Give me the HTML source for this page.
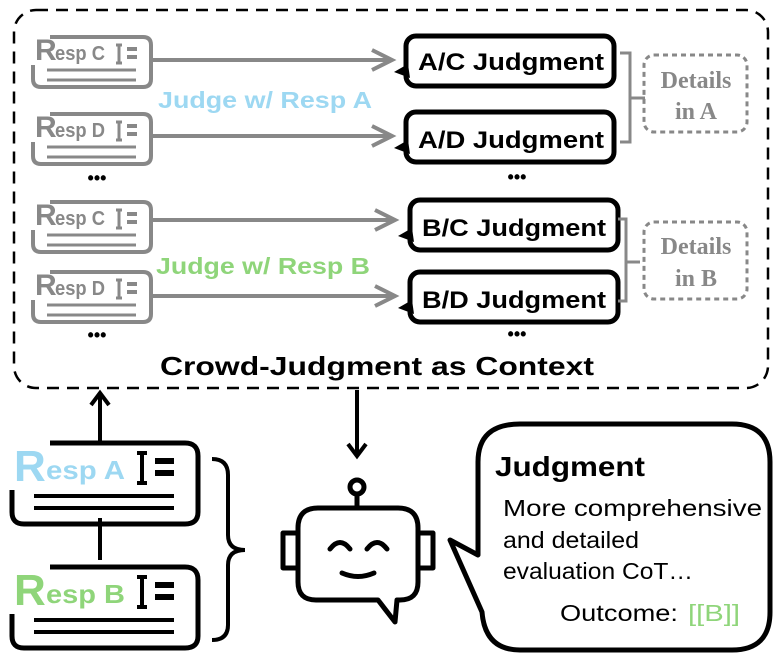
<!DOCTYPE html>
<html><head><style>
html,body{margin:0;padding:0;background:#fff;width:777px;height:667px;overflow:hidden}
svg{display:block}
text{font-family:"Liberation Sans",sans-serif}
</style></head><body>
<svg width="777" height="667" viewBox="0 0 777 667" xmlns="http://www.w3.org/2000/svg">
<defs>
<g id="docg">
  <path d="M17 2 H110 Q118 2 118 10 V44 Q118 52 110 52 H8 Q0 52 0 44 V30" fill="none" stroke="#888" stroke-width="4"/>
  <line x1="14" y1="35" x2="103" y2="35" stroke="#888" stroke-width="3"/>
  <line x1="14" y1="45" x2="103" y2="45" stroke="#888" stroke-width="3"/>
  <path d="M83 10 h6 M86 10 v18 M83 28 h6" stroke="#888" stroke-width="3" fill="none"/>
  <path d="M94 14 h10 M94 22 h10" stroke="#888" stroke-width="4"/>
</g>
<g id="judg">
  <rect x="0" y="0" width="208" height="50" rx="10" fill="#fff" stroke="#000" stroke-width="5"/>
  <path d="M2 28 L-12 36 L4 42 Z" fill="#000"/>
</g>
</defs>
<rect x="14" y="10" width="754" height="378" rx="22" fill="none" stroke="#000" stroke-width="2.5" stroke-dasharray="12 8"/>

<g transform="translate(33,35)"><use href="#docg"/><text x="2" y="25" font-size="30" font-weight="bold" fill="#888">R</text><text x="22" y="25" font-size="20" font-weight="bold" fill="#888" textLength="50" lengthAdjust="spacingAndGlyphs">esp C</text></g>
<g transform="translate(33,112)"><use href="#docg"/><text x="2" y="25" font-size="30" font-weight="bold" fill="#888">R</text><text x="22" y="25" font-size="20" font-weight="bold" fill="#888" textLength="50" lengthAdjust="spacingAndGlyphs">esp D</text></g>
<g transform="translate(33,200)"><use href="#docg"/><text x="2" y="25" font-size="30" font-weight="bold" fill="#888">R</text><text x="22" y="25" font-size="20" font-weight="bold" fill="#888" textLength="50" lengthAdjust="spacingAndGlyphs">esp C</text></g>
<g transform="translate(33,270)"><use href="#docg"/><text x="2" y="25" font-size="30" font-weight="bold" fill="#888">R</text><text x="22" y="25" font-size="20" font-weight="bold" fill="#888" textLength="50" lengthAdjust="spacingAndGlyphs">esp D</text></g>
<text x="97" y="184" font-size="18" font-weight="bold" text-anchor="middle">•••</text>
<text x="97" y="341" font-size="18" font-weight="bold" text-anchor="middle">•••</text>
<text x="517" y="183" font-size="18" font-weight="bold" text-anchor="middle">•••</text>
<text x="517" y="340" font-size="18" font-weight="bold" text-anchor="middle">•••</text>

<g stroke="#888" stroke-width="4" fill="none">
<path d="M153 60 H392 M372 50 L392 60 L372 70"/>
<path d="M153 136 H392 M372 126 L392 136 L372 146"/>
<path d="M153 220 H395 M375 210 L395 220 L375 230"/>
<path d="M153 296 H395 M375 286 L395 296 L375 306"/>
</g>
<text x="158" y="108" font-size="23" font-weight="bold" fill="#9dd8f2" textLength="214" lengthAdjust="spacingAndGlyphs">Judge w/ Resp A</text>
<text x="156" y="274" font-size="23" font-weight="bold" fill="#8fd57a" textLength="214" lengthAdjust="spacingAndGlyphs">Judge w/ Resp B</text>

<g transform="translate(406,36)"><use href="#judg"/><text x="12" y="34" font-size="24" font-weight="bold" textLength="186" lengthAdjust="spacingAndGlyphs">A/C Judgment</text></g>
<g transform="translate(406,112)"><use href="#judg"/><text x="12" y="36" font-size="24" font-weight="bold" textLength="186" lengthAdjust="spacingAndGlyphs">A/D Judgment</text></g>
<g transform="translate(410,200)"><use href="#judg"/><text x="12" y="36" font-size="24" font-weight="bold" textLength="184" lengthAdjust="spacingAndGlyphs">B/C Judgment</text></g>
<g transform="translate(410,272)"><use href="#judg"/><text x="12" y="36" font-size="24" font-weight="bold" textLength="184" lengthAdjust="spacingAndGlyphs">B/D Judgment</text></g>

<g stroke="#888" stroke-width="3" fill="none">
<path d="M620 53 H630 V142 H620 M630 98 H645"/>
<path d="M618 219 H626 V301 H618 M626 262 H640"/>
<rect x="644" y="55" width="103" height="77" rx="10" stroke-dasharray="5 4"/>
<rect x="644" y="222" width="103" height="77" rx="10" stroke-dasharray="5 4"/>
</g>
<g font-size="24" font-weight="bold" fill="#888" text-anchor="middle">
<text x="696" y="88" style="font-family:'Liberation Serif',serif">Details</text>
<text x="696" y="119" style="font-family:'Liberation Serif',serif">in A</text>
<text x="696" y="254" style="font-family:'Liberation Serif',serif">Details</text>
<text x="696" y="286" style="font-family:'Liberation Serif',serif">in B</text>
</g>
<text x="160" y="375" font-size="26" font-weight="bold" textLength="434" lengthAdjust="spacingAndGlyphs">Crowd-Judgment as Context</text>

<g stroke="#000" stroke-width="4" fill="none">
<path d="M100 443 V394 M91 405 L100 393 L109 405"/>
<path d="M357 390 V455 M348 444 L357 456 L366 444"/>
<path d="M100 518 V560"/>
</g>

<g stroke="#000" stroke-width="5" fill="none">
<path d="M50 443 H185 Q198 443 198 456 V512 Q198 524 185 524 H24 Q12 524 12 512 V490"/>
<path d="M50 567 H185 Q198 567 198 580 V636 Q198 648 185 648 H24 Q12 648 12 636 V614"/>
<path d="M34 496 H174 M34 508 H174 M34 620 H174 M34 632 H174" stroke-width="4"/>
<path d="M137 453 h10 M142 453 v30 M137 483 h10 M137 577 h10 M142 577 v30 M137 607 h10" stroke-width="4"/>
<path d="M155 461 h19 M155 473 h19 M155 585 h19 M155 597 h19" stroke-width="6"/>
<path d="M212 459 Q228 459 228 475 V535 Q228 550 245 550 Q228 550 228 565 V625 Q228 640 212 640" stroke-width="4"/>
</g>
<text x="14" y="481" font-size="44" font-weight="bold" fill="#9dd8f2">R</text><text x="46" y="479" font-size="26" font-weight="bold" fill="#9dd8f2" textLength="79" lengthAdjust="spacingAndGlyphs">esp A</text>
<text x="14" y="605" font-size="44" font-weight="bold" fill="#8fd57a">R</text><text x="46" y="603" font-size="26" font-weight="bold" fill="#8fd57a" textLength="79" lengthAdjust="spacingAndGlyphs">esp B</text>

<g stroke="#000" stroke-width="5" fill="none" stroke-linecap="round" stroke-linejoin="round">
<circle cx="357" cy="487" r="7"/>
<path d="M357 494 V508"/>
<path d="M318 508 H398 Q418 508 418 528 V582 Q418 600 400 600 H397 L395 622 L378 600 H316 Q298 600 298 582 V528 Q298 508 318 508 Z"/>
<path d="M297 533 H283 V568 H297 M419 533 H433 V568 H419"/>
<path d="M330 549 Q340 536 350 549 M367 549 Q377 536 387 549"/>
<path d="M342 573 Q358 580 374 573"/>
</g>

<path d="M520 424 H732 Q770 424 770 462 V612 Q770 650 732 650 H520 Q485 650 482 612 L450 540 L478 555 V462 Q478 424 520 424 Z" fill="#fff" stroke="#000" stroke-width="5" stroke-linejoin="round"/>
<text x="495" y="476" font-size="28" font-weight="bold" textLength="150" lengthAdjust="spacingAndGlyphs">Judgment</text>
<text x="503" y="516" font-size="23" textLength="259" lengthAdjust="spacingAndGlyphs">More comprehensive</text>
<text x="503" y="548" font-size="23" textLength="136" lengthAdjust="spacingAndGlyphs">and detailed</text>
<text x="503" y="579" font-size="23" textLength="190" lengthAdjust="spacingAndGlyphs">evaluation CoT…</text>
<text x="560" y="621" font-size="23" textLength="118" lengthAdjust="spacingAndGlyphs">Outcome:</text>
<text x="688" y="621" font-size="23" fill="#8fd57a" textLength="52" lengthAdjust="spacingAndGlyphs">[[B]]</text>
</svg>
</body></html>
